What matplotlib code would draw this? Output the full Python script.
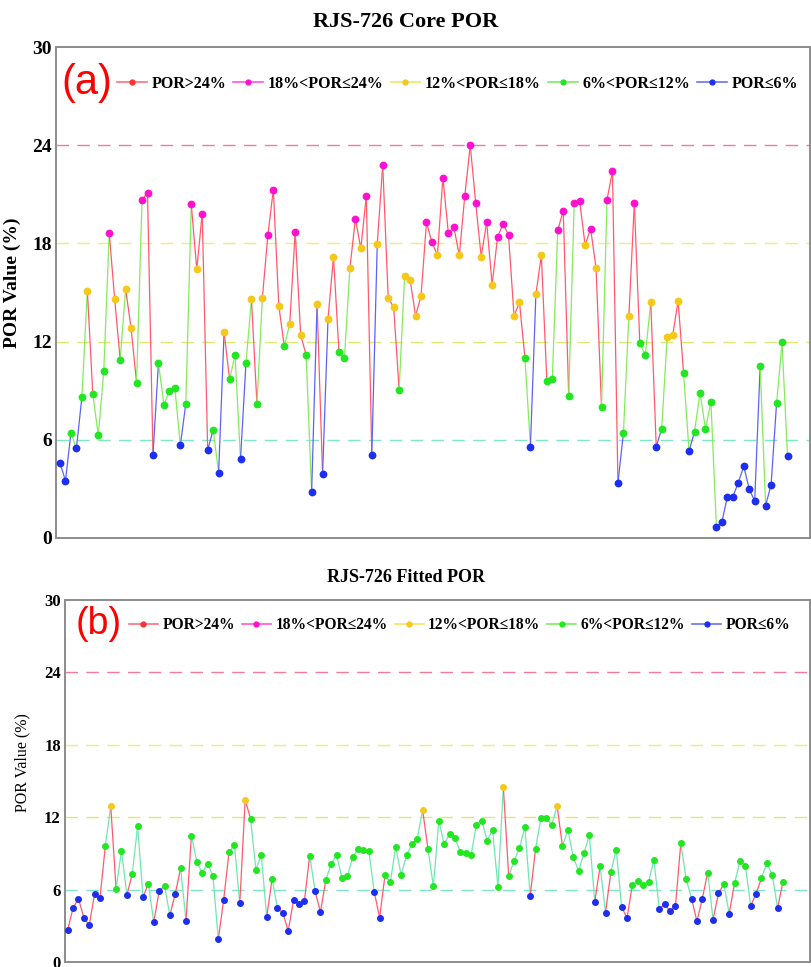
import matplotlib.pyplot as plt
import numpy as np
from matplotlib.collections import LineCollection
from matplotlib.lines import Line2D

# Core porosity, panel (a)
core_por = [4.58, 3.50, 6.42, 5.48, 8.59, 15.11, 8.78, 6.29, 10.18, 18.62,
            14.58, 10.90, 15.21, 12.81, 9.49, 20.67, 21.10, 5.09, 10.69, 8.13,
            8.98, 9.16, 5.66, 8.21, 20.39, 16.42, 19.82, 5.38, 6.60, 3.99,
            12.59, 9.69, 11.18, 4.81, 10.69, 14.58, 8.21, 14.68, 18.51, 21.28,
            14.20, 11.71, 13.10, 18.72, 12.40, 11.18, 2.79, 14.32, 3.89, 13.40,
            17.19, 11.36, 11.00, 16.50, 19.49, 17.70, 20.90, 5.09, 17.98, 22.79,
            14.68, 14.09, 9.06, 15.99, 15.78, 13.58, 14.79, 19.29, 18.06, 17.27,
            22.02, 18.62, 19.00, 17.27, 20.90, 23.99, 20.47, 17.19, 19.29, 15.48,
            18.39, 19.19, 18.51, 13.58, 14.40, 11.00, 5.58, 14.89, 17.27, 9.61,
            9.71, 18.80, 20.00, 8.70, 20.47, 20.59, 17.88, 18.90, 16.50, 7.98,
            20.67, 22.40, 3.36, 6.40, 13.58, 20.47, 11.89, 11.18, 14.40, 5.58,
            6.68, 12.30, 12.38, 14.48, 10.08, 5.30, 6.50, 8.88, 6.68, 8.31,
            0.69, 0.98, 2.51, 2.51, 3.38, 4.38, 2.99, 2.26, 10.51, 1.98,
            3.26, 8.23, 11.95, 4.99]

# Fitted porosity, panel (b)
fitted_por = [2.68, 4.48, 5.25, 3.68, 3.04, 5.64, 5.31, 9.62, 12.94, 6.05,
              9.23, 5.56, 7.27, 11.28, 5.36, 6.50, 3.29, 5.86, 6.33, 3.87,
              5.67, 7.77, 3.43, 10.48, 8.32, 7.38, 8.13, 7.16, 1.88, 5.14,
              9.12, 9.70, 4.89, 13.43, 11.89, 7.63, 8.87, 3.70, 6.91, 4.45,
              4.09, 2.57, 5.14, 4.81, 5.03, 8.82, 5.86, 4.15, 6.80, 8.15,
              8.84, 6.94, 7.10, 8.71, 9.37, 9.31, 9.20, 5.80, 3.68, 7.19,
              6.61, 9.56, 7.19, 8.84, 9.76, 10.23, 12.58, 9.34, 6.27, 11.69,
              9.76, 10.59, 10.28, 9.15, 9.01, 8.84, 11.39, 11.69, 10.06, 10.97,
              6.22, 14.51, 7.13, 8.40, 9.43, 11.19, 5.50, 9.40, 11.97, 11.91,
              11.33, 12.94, 9.59, 10.97, 8.71, 7.55, 9.04, 10.50, 5.00, 7.96,
              4.09, 7.46, 9.31, 4.56, 3.65, 6.41, 6.69, 6.41, 6.63, 8.43,
              4.42, 4.78, 4.23, 4.62, 9.84, 6.88, 5.25, 3.37, 5.25, 7.41,
              3.51, 5.69, 6.44, 4.01, 6.55, 8.35, 7.99, 4.67, 5.67, 6.94,
              8.21, 7.21, 4.48, 6.66]

class_labels = ['POR>24%', '18%<POR\u226424%', '12%<POR\u226418%',
                '6%<POR\u226412%', 'POR\u22646%']
thresholds = [6, 12, 18, 24]
yticks = [0, 6, 12, 18, 24, 30]

dot_colors = ['#ff3030', '#ff10d0', '#f5c81a', '#22e622', '#1c2ef0']
legend_line_colors = ['#ff6f7f', '#ff55dd', '#f7e45a', '#7cee60', '#6a72f5']
ref_line_colors = {24: '#f27a9a', 18: '#eeee70', 12: '#dfe870', 6: '#80e6c8'}

SERIF = ['Liberation Serif', 'DejaVu Serif']


def por_class(v):
    # 0: >24, 1: 18-24, 2: 12-18, 3: 6-12, 4: <=6
    if v > 24:
        return 0
    if v > 18:
        return 1
    if v > 12:
        return 2
    if v > 6:
        return 3
    return 4


def draw_panel(ax, vals, seg_colors, msize, tick_fs):
    vals = np.array(vals)
    x = np.arange(len(vals))
    cls = np.array([por_class(v) for v in vals])

    for t in thresholds:
        ax.axhline(t, color=ref_line_colors[t], lw=1.0, ls=(0, (9, 6)), zorder=1)

    # each segment takes its colour from the class of its starting point
    pts = np.column_stack([x, vals])
    segs = np.stack([pts[:-1], pts[1:]], axis=1)
    cols = [seg_colors[c] for c in cls[:-1]]
    ax.add_collection(LineCollection(segs, colors=cols, linewidths=0.9, zorder=2))

    for c in range(5):
        m = cls == c
        ax.plot(x[m], vals[m], 'o', ms=msize, color=dot_colors[c],
                mec=dot_colors[c], zorder=3)

    ax.set_ylim(0, 30)
    ax.set_yticks(yticks)
    ax.set_xticks([])
    ax.tick_params(axis='y', length=0, pad=3)
    for lab in ax.get_yticklabels():
        lab.set_fontfamily(SERIF)
        lab.set_fontweight('bold')
        lab.set_fontsize(tick_fs)
    for s in ax.spines.values():
        s.set_color('#8c8c8c')
        s.set_linewidth(1.4)


fig = plt.figure(figsize=(8.12, 9.67), dpi=100)

# panel (a)
ax1 = fig.add_axes([56 / 812, 1 - 538 / 967, 754 / 812, 491 / 967])
seg_a = {0: '#ff5a6a', 1: '#ff5a6a', 2: '#ff5a6a', 3: '#84ec5c', 4: '#5a64f5'}
draw_panel(ax1, core_por, seg_a, 4.6, 14)
ax1.set_xlim(-4 / 5.47, 750 / 5.47)
ax1.set_ylabel('POR Value (%)', fontfamily=SERIF, fontweight='bold', fontsize=14)
ax1.yaxis.set_label_coords(-0.047, 0.52)
fig.text(0.5, 1 - 22 / 967, 'RJS-726 Core POR', ha='center', va='center',
         fontfamily=SERIF, fontweight='bold', fontsize=16)

# panel (b)
ax2 = fig.add_axes([65 / 812, 1 - 962 / 967, 745 / 812, 362 / 967])
seg_b = {0: '#ff5a6a', 1: '#ff5a6a', 2: '#ff5a6a', 3: '#6ee8b0', 4: '#ff5a6a'}
draw_panel(ax2, fitted_por, seg_b, 4.0, 12)
ax2.set_xlim(-2.7 / 5.378, 742.3 / 5.378)
ax2.set_ylabel('POR Value (%)', fontfamily=SERIF, fontsize=11.5)
ax2.yaxis.set_label_coords(-0.047, 0.55)
fig.text(0.5, 1 - 578 / 967, 'RJS-726 Fitted POR', ha='center', va='center',
         fontfamily=SERIF, fontweight='bold', fontsize=13)

# legends and panel letters
handles = [Line2D([0], [0], color=legend_line_colors[i], lw=1.2, marker='o', ms=3.5,
                  mfc=dot_colors[i], mec=dot_colors[i]) for i in range(5)]
for ax, ypix, xpix, letter, lx, lfs, leg_fs in [(ax1, 84, 117, '(a)', 61, 30, 11.5),
                                                (ax2, 625, 129, '(b)', 76, 27, 11.2)]:
    ax.legend(handles, class_labels, ncol=5, loc='center left',
              bbox_to_anchor=(xpix / 812, 1 - ypix / 967), bbox_transform=fig.transFigure,
              frameon=False, borderpad=0, borderaxespad=0, handlelength=1.85,
              handletextpad=0.3, columnspacing=0.45,
              prop={'family': SERIF, 'weight': 'bold', 'size': leg_fs})
    fig.text(lx / 812, 1 - (ypix - 1) / 967, letter, color='#ff0000',
             fontfamily=['Liberation Sans', 'DejaVu Sans'], fontsize=lfs,
             ha='left', va='center')

fig.savefig('out.png', dpi=100)
